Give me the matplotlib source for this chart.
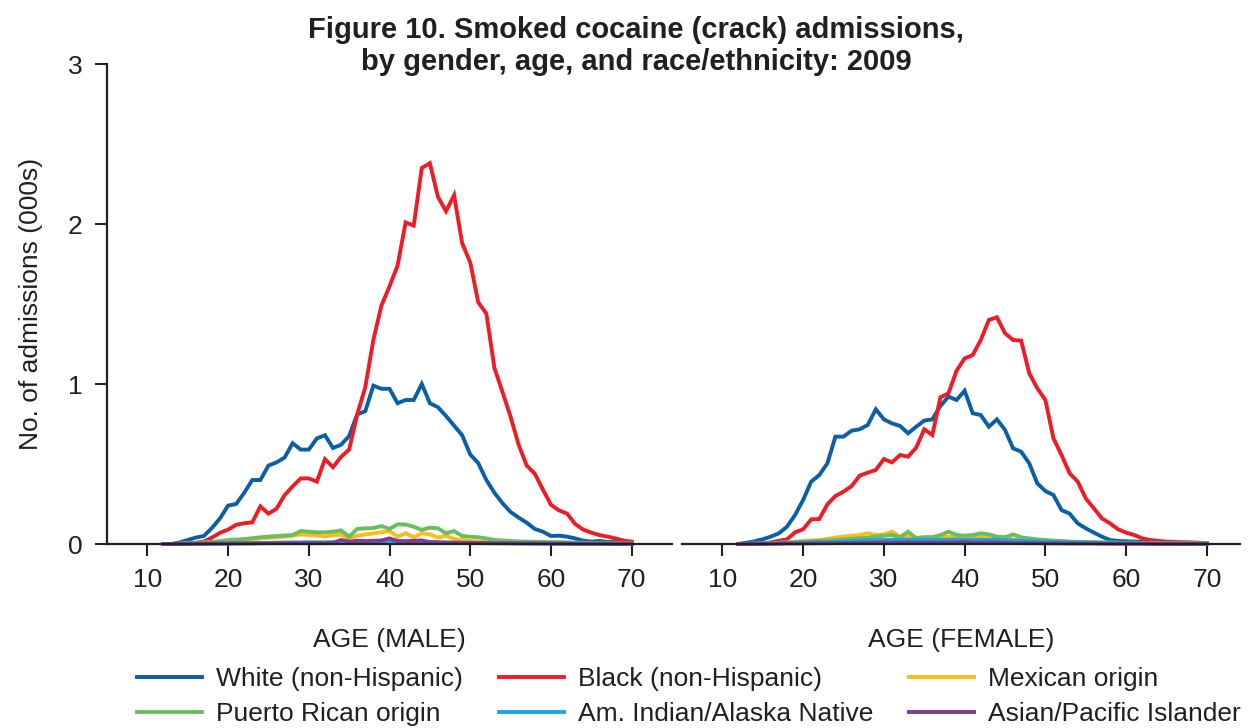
import numpy as np
import matplotlib
matplotlib.use("Agg")
import matplotlib.pyplot as plt

plt.rcParams["font.family"] = ["Liberation Sans", "DejaVu Sans"]

# ages 12..70
ages = list(range(12, 71))

male_white = [0.0, 0.0, 0.01, 0.025, 0.04, 0.05, 0.10, 0.16, 0.24, 0.25,
              0.32, 0.40, 0.40, 0.49, 0.51, 0.54, 0.63, 0.59, 0.59, 0.66,
              0.68, 0.60, 0.62, 0.675, 0.81, 0.83, 0.99, 0.97, 0.97, 0.88,
              0.90, 0.90, 1.00, 0.88, 0.855, 0.80, 0.74, 0.68, 0.56, 0.505,
              0.40, 0.32, 0.255, 0.20, 0.165, 0.133, 0.094, 0.077, 0.05, 0.052,
              0.046, 0.035, 0.021, 0.015, 0.019, 0.013, 0.012, 0.011, 0.01]
male_black = [0.0, 0.0, 0.0, 0.005, 0.008, 0.015, 0.04, 0.07, 0.09, 0.12,
              0.13, 0.135, 0.235, 0.19, 0.22, 0.305, 0.36, 0.41, 0.41, 0.39,
              0.53, 0.48, 0.545, 0.59, 0.81, 0.98, 1.275, 1.49, 1.61, 1.74,
              2.01, 1.99, 2.35, 2.38, 2.17, 2.08, 2.18, 1.88, 1.76, 1.51,
              1.44, 1.10, 0.95, 0.795, 0.62, 0.49, 0.44, 0.34, 0.245, 0.21,
              0.19, 0.125, 0.09, 0.071, 0.056, 0.046, 0.035, 0.021, 0.015]
male_mexican = [0.0, 0.0, 0.002, 0.004, 0.006, 0.008, 0.012, 0.015, 0.019, 0.022,
                0.026, 0.03, 0.035, 0.038, 0.042, 0.046, 0.052, 0.06, 0.057, 0.054,
                0.046, 0.056, 0.058, 0.035, 0.052, 0.06, 0.066, 0.073, 0.081, 0.046,
                0.067, 0.042, 0.067, 0.06, 0.04, 0.052, 0.031, 0.025, 0.019, 0.015,
                0.014, 0.013, 0.012, 0.011, 0.01, 0.009, 0.008, 0.007, 0.006, 0.005,
                0.005, 0.005, 0.004, 0.004, 0.004, 0.003, 0.003, 0.002, 0.002]
male_pr = [0.0, 0.0, 0.002, 0.004, 0.006, 0.009, 0.013, 0.018, 0.025, 0.028,
           0.031, 0.036, 0.042, 0.046, 0.05, 0.053, 0.056, 0.081, 0.077, 0.073,
           0.073, 0.077, 0.085, 0.046, 0.094, 0.098, 0.10, 0.112, 0.094, 0.123,
           0.122, 0.108, 0.088, 0.102, 0.098, 0.067, 0.081, 0.05, 0.046, 0.042,
           0.035, 0.025, 0.022, 0.019, 0.016, 0.015, 0.014, 0.013, 0.012, 0.011,
           0.01, 0.009, 0.008, 0.007, 0.006, 0.005, 0.004, 0.004, 0.003]
male_amind = [0.0, 0.0, 0.0, 0.001, 0.001, 0.002, 0.002, 0.003, 0.003, 0.004,
              0.004, 0.005, 0.005, 0.006, 0.008, 0.009, 0.01, 0.01, 0.011, 0.01,
              0.011, 0.012, 0.008, 0.006, 0.01, 0.012, 0.013, 0.015, 0.02, 0.012,
              0.014, 0.012, 0.013, 0.012, 0.01, 0.009, 0.008, 0.008, 0.007, 0.006,
              0.005, 0.005, 0.005, 0.004, 0.004, 0.004, 0.003, 0.003, 0.003, 0.002,
              0.002, 0.002, 0.002, 0.001, 0.001, 0.001, 0.001, 0.001, 0.001]
male_asian = [0.0, 0.0, 0.001, 0.001, 0.002, 0.002, 0.003, 0.003, 0.003, 0.004,
              0.004, 0.004, 0.005, 0.005, 0.005, 0.005, 0.005, 0.005, 0.005, 0.005,
              0.005, 0.006, 0.025, 0.015, 0.02, 0.018, 0.02, 0.022, 0.035, 0.019,
              0.018, 0.02, 0.022, 0.012, 0.01, 0.008, 0.008, 0.007, 0.007, 0.006,
              0.006, 0.005, 0.005, 0.005, 0.004, 0.004, 0.004, 0.003, 0.003, 0.003,
              0.003, 0.002, 0.002, 0.002, 0.002, 0.002, 0.001, 0.001, 0.001]

female_white = [0.0, 0.008, 0.017, 0.03, 0.046, 0.067, 0.108, 0.181, 0.275, 0.39,
                0.431, 0.504, 0.671, 0.671, 0.708, 0.717, 0.744, 0.842, 0.779, 0.754,
                0.738, 0.692, 0.733, 0.771, 0.779, 0.863, 0.921, 0.90, 0.958, 0.817,
                0.806, 0.733, 0.779, 0.713, 0.598, 0.577, 0.504, 0.379, 0.331, 0.306,
                0.212, 0.19, 0.129, 0.098, 0.071, 0.046, 0.025, 0.019, 0.017, 0.015,
                0.014, 0.012, 0.011, 0.01, 0.009, 0.008, 0.007, 0.006, 0.005]
female_black = [0.0, 0.0, 0.002, 0.005, 0.01, 0.02, 0.029, 0.073, 0.092, 0.154,
                0.156, 0.248, 0.30, 0.327, 0.362, 0.427, 0.446, 0.463, 0.531, 0.51,
                0.556, 0.546, 0.602, 0.717, 0.681, 0.917, 0.942, 1.083, 1.16, 1.181,
                1.275, 1.40, 1.417, 1.317, 1.275, 1.271, 1.067, 0.973, 0.90, 0.66,
                0.556, 0.442, 0.39, 0.285, 0.223, 0.16, 0.129, 0.092, 0.071, 0.056,
                0.035, 0.025, 0.019, 0.015, 0.013, 0.011, 0.01, 0.008, 0.006]
female_mexican = [0.0, 0.001, 0.002, 0.003, 0.005, 0.007, 0.01, 0.014, 0.019, 0.022,
                  0.025, 0.032, 0.04, 0.046, 0.052, 0.056, 0.067, 0.056, 0.06, 0.077,
                  0.046, 0.048, 0.04, 0.042, 0.042, 0.046, 0.046, 0.04, 0.042, 0.04,
                  0.046, 0.042, 0.035, 0.042, 0.029, 0.025, 0.021, 0.019, 0.015, 0.013,
                  0.012, 0.011, 0.01, 0.009, 0.008, 0.008, 0.007, 0.007, 0.006, 0.006,
                  0.005, 0.005, 0.005, 0.004, 0.004, 0.004, 0.003, 0.003, 0.003]
female_pr = [0.0, 0.0, 0.001, 0.002, 0.004, 0.006, 0.008, 0.011, 0.015, 0.017,
             0.02, 0.022, 0.025, 0.029, 0.032, 0.036, 0.04, 0.046, 0.052, 0.056,
             0.042, 0.077, 0.035, 0.042, 0.042, 0.056, 0.077, 0.056, 0.052, 0.056,
             0.067, 0.06, 0.046, 0.042, 0.06, 0.042, 0.035, 0.029, 0.025, 0.021,
             0.019, 0.015, 0.013, 0.012, 0.011, 0.01, 0.01, 0.009, 0.008, 0.008,
             0.007, 0.007, 0.006, 0.006, 0.005, 0.005, 0.005, 0.004, 0.004]
female_amind = [0.0, 0.001, 0.002, 0.003, 0.004, 0.005, 0.006, 0.007, 0.008, 0.01,
                0.011, 0.012, 0.014, 0.015, 0.018, 0.02, 0.022, 0.024, 0.025, 0.026,
                0.025, 0.027, 0.026, 0.028, 0.025, 0.027, 0.026, 0.028, 0.025, 0.027,
                0.026, 0.025, 0.027, 0.024, 0.022, 0.02, 0.018, 0.016, 0.015, 0.013,
                0.012, 0.011, 0.01, 0.009, 0.008, 0.007, 0.006, 0.005, 0.005, 0.004,
                0.004, 0.003, 0.003, 0.003, 0.002, 0.002, 0.002, 0.002, 0.002]
female_asian = [0.0, 0.0, 0.001, 0.001, 0.002, 0.002, 0.003, 0.003, 0.004, 0.004,
                0.005, 0.005, 0.006, 0.006, 0.006, 0.007, 0.007, 0.008, 0.01, 0.008,
                0.009, 0.01, 0.008, 0.009, 0.01, 0.008, 0.009, 0.01, 0.012, 0.009,
                0.008, 0.01, 0.009, 0.007, 0.006, 0.006, 0.005, 0.005, 0.004, 0.004,
                0.004, 0.003, 0.003, 0.003, 0.003, 0.002, 0.002, 0.002, 0.002, 0.002,
                0.002, 0.001, 0.001, 0.001, 0.001, 0.001, 0.001, 0.001, 0.001]

labels = ["White (non-Hispanic)", "Black (non-Hispanic)", "Mexican origin",
          "Puerto Rican origin", "Am. Indian/Alaska Native", "Asian/Pacific Islander"]
colors = ["#0a5fa6", "#ee1c25", "#fdbb1c", "#6abf5c", "#18a7e0", "#7e3b93"]

male = [male_white, male_black, male_mexican, male_pr, male_amind, male_asian]
female = [female_white, female_black, female_mexican, female_pr, female_amind, female_asian]

ink = "#231f20"
W, H = 1248, 728
fig = plt.figure(figsize=(W / 100, H / 100), dpi=100)

ax_m = fig.add_axes([107 / W, 1 - 544 / H, (672 - 107) / W, (544 - 64) / H])
ax_f = fig.add_axes([682 / W, 1 - 544 / H, (1240 - 682) / W, (544 - 64) / H])

handles = []
for ax, series in ((ax_m, male), (ax_f, female)):
    for vals, col, lab in zip(series, colors, labels):
        ln, = ax.plot(ages, vals, color=col, lw=2.8, label=lab, clip_on=False,
                      solid_joinstyle="miter")
        if ax is ax_m:
            handles.append(ln)
    ax.set_ylim(0, 3)
    ax.set_xticks(range(10, 71, 10))
    for s in ("top", "right"):
        ax.spines[s].set_visible(False)
    ax.spines["bottom"].set_linewidth(1.6)
    ax.spines["bottom"].set_color(ink)
    ax.tick_params(axis="both", direction="out", length=8.5, width=1.5,
                   color=ink, labelsize=19, labelcolor=ink, pad=9)

ax_m.set_xlim(5, 75)
ax_f.set_xlim(5, 74.1)

ax_m.set_yticks([0, 1, 2, 3])
ax_m.spines["left"].set_linewidth(1.6)
ax_m.spines["left"].set_color(ink)
ax_m.set_ylabel("No. of admissions (000s)", fontsize=19, color=ink, labelpad=18)

ax_f.spines["left"].set_visible(False)
ax_f.set_yticks([])

ax_m.set_xlabel("AGE (MALE)", fontsize=19, color=ink, labelpad=26)
ax_f.set_xlabel("AGE (FEMALE)", fontsize=19, color=ink, labelpad=26)

fig.text(636 / W, 1 - 46 / H, "Figure 10. Smoked cocaine (crack) admissions,\nby gender, age, and race/ethnicity: 2009",
         ha="center", va="center", fontsize=21, fontweight="bold", color=ink,
         linespacing=1.15)

# matplotlib fills legend columns first, so reorder to read row-wise
order = [0, 3, 1, 4, 2, 5]
fig.legend([handles[i] for i in order], [labels[i] for i in order],
           loc="upper left", bbox_to_anchor=(137 / W, 1 - 667 / H), ncol=3,
           frameon=False, fontsize=19, handlelength=2.46, handletextpad=0.53,
           columnspacing=1.36, labelspacing=0.42, borderpad=0, borderaxespad=0,
           labelcolor=ink)

fig.savefig("out.png", dpi=100)
